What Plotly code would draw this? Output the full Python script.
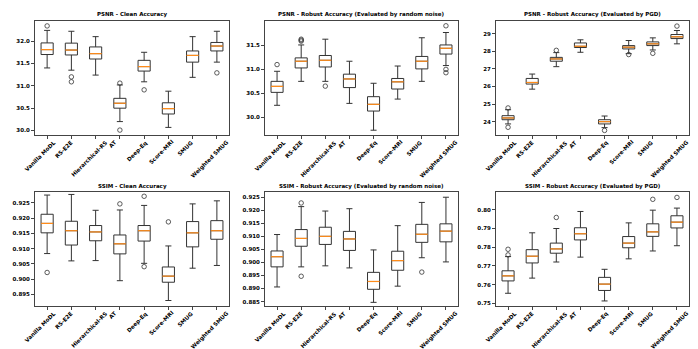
import plotly.graph_objects as go

methods = ["Vanilla MoDL", "RS-E2E", "Hierarchical-RS", "AT", "Deep-Eq",
           "Score-MRI", "SMUG", "Weighted SMUG"]

# PSNR - clean
psnr_clean_lo = [31.40, 31.35, 31.24, 30.20, 31.09, 30.07, 31.19, 31.53]
psnr_clean_q1 = [31.70, 31.69, 31.60, 30.50, 31.33, 30.37, 31.53, 31.78]
psnr_clean_med = [31.81, 31.80, 31.72, 30.61, 31.43, 30.49, 31.68, 31.89]
psnr_clean_q3 = [31.96, 31.955, 31.87, 30.72, 31.57, 30.62, 31.78, 31.97]
psnr_clean_hi = [32.24, 32.22, 32.10, 31.02, 31.75, 30.88, 32.10, 32.22]
psnr_clean_out = [[32.34], [31.20, 31.09], [], [31.06, 30.01], [30.91], [], [], [31.29]]

# PSNR - random noise
psnr_noise_lo = [30.25, 30.75, 30.75, 30.29, 29.73, 30.38, 30.75, 31.08]
psnr_noise_q1 = [30.52, 31.03, 31.05, 30.62, 30.13, 30.59, 31.01, 31.32]
psnr_noise_med = [30.645, 31.17, 31.19, 30.80, 30.27, 30.74, 31.17, 31.44]
psnr_noise_q3 = [30.75, 31.24, 31.29, 30.90, 30.43, 30.81, 31.27, 31.51]
psnr_noise_hi = [30.96, 31.51, 31.63, 31.17, 30.71, 31.07, 31.66, 31.77]
psnr_noise_out = [[31.10], [31.63, 31.61, 31.59], [30.65], [], [], [], [], [31.91, 31.00, 30.93]]

# PSNR - PGD
psnr_pgd_lo = [23.87, 25.85, 27.13, 27.95, 23.66, 27.87, 28.08, 28.43]
psnr_pgd_q1 = [24.11, 26.14, 27.44, 28.22, 23.87, 28.14, 28.33, 28.73]
psnr_pgd_med = [24.21, 26.23, 27.57, 28.29, 24.00, 28.24, 28.43, 28.83]
psnr_pgd_q3 = [24.34, 26.46, 27.66, 28.48, 24.11, 28.33, 28.54, 28.96]
psnr_pgd_hi = [24.68, 26.71, 27.93, 28.66, 24.32, 28.62, 28.77, 29.19]
psnr_pgd_out = [[24.78, 23.68], [], [28.06], [], [23.50], [27.82], [27.89], [29.44]]

# SSIM - clean
ssim_clean_lo = [0.9084, 0.9060, 0.9061, 0.8995, 0.9052, 0.8930, 0.9036, 0.9045]
ssim_clean_q1 = [0.9152, 0.9112, 0.9126, 0.9083, 0.9125, 0.8990, 0.9106, 0.9131]
ssim_clean_med = [0.9183, 0.9159, 0.9155, 0.9116, 0.9159, 0.9010, 0.9152, 0.9159]
ssim_clean_q3 = [0.9213, 0.9190, 0.9176, 0.9145, 0.9176, 0.9040, 0.9189, 0.9192]
ssim_clean_hi = [0.9276, 0.9278, 0.9226, 0.9227, 0.9242, 0.9109, 0.9247, 0.9257]
ssim_clean_out = [[0.9022], [], [], [0.9247], [0.9272, 0.9041], [0.9188], [], []]

# SSIM - random noise
ssim_noise_lo = [0.8906, 0.8983, 0.8987, 0.8979, 0.8847, 0.8909, 0.9018, 0.9002]
ssim_noise_q1 = [0.8983, 0.9062, 0.9069, 0.9046, 0.8897, 0.8970, 0.9077, 0.9079]
ssim_noise_med = [0.9022, 0.9092, 0.9100, 0.9090, 0.8927, 0.9007, 0.9108, 0.9120]
ssim_noise_q3 = [0.9044, 0.9126, 0.9135, 0.9119, 0.8962, 0.9043, 0.9146, 0.9148]
ssim_noise_hi = [0.9107, 0.9214, 0.9197, 0.9206, 0.9048, 0.9141, 0.9230, 0.9250]
ssim_noise_out = [[], [0.9228, 0.8947], [], [], [], [], [0.8963], []]

# SSIM - PGD
ssim_pgd_lo = [0.7554, 0.7635, 0.7721, 0.7747, 0.7513, 0.7738, 0.7780, 0.7808]
ssim_pgd_q1 = [0.7620, 0.7716, 0.7768, 0.7839, 0.7569, 0.7797, 0.7858, 0.7903]
ssim_pgd_med = [0.7647, 0.7752, 0.7791, 0.7872, 0.7603, 0.7822, 0.7882, 0.7934]
ssim_pgd_q3 = [0.7674, 0.7787, 0.7822, 0.7904, 0.7639, 0.7857, 0.7925, 0.7968]
ssim_pgd_hi = [0.7750, 0.7877, 0.7900, 0.7991, 0.7682, 0.7930, 0.7998, 0.8009]
ssim_pgd_out = [[0.7789, 0.7759], [], [0.7959], [], [], [], [0.8056], [0.8066]]

panels = [
    ("PSNR - Clean Accuracy", psnr_clean_lo, psnr_clean_q1, psnr_clean_med, psnr_clean_q3, psnr_clean_hi, psnr_clean_out,
     [29.9, 32.45], [30.0, 30.5, 31.0, 31.5, 32.0], ".1f"),
    ("PSNR - Robust Accuracy (Evaluated by random noise)", psnr_noise_lo, psnr_noise_q1, psnr_noise_med, psnr_noise_q3, psnr_noise_hi, psnr_noise_out,
     [29.63, 32.01], [30.0, 30.5, 31.0, 31.5], ".1f"),
    ("PSNR - Robust Accuracy (Evaluated by PGD)", psnr_pgd_lo, psnr_pgd_q1, psnr_pgd_med, psnr_pgd_q3, psnr_pgd_hi, psnr_pgd_out,
     [23.24, 29.73], [24, 25, 26, 27, 28, 29], "d"),
    ("SSIM - Clean Accuracy", ssim_clean_lo, ssim_clean_q1, ssim_clean_med, ssim_clean_q3, ssim_clean_hi, ssim_clean_out,
     [0.8912, 0.9286], [0.895, 0.900, 0.905, 0.910, 0.915, 0.920, 0.925], ".3f"),
    ("SSIM - Robust Accuracy (Evaluated by random noise)", ssim_noise_lo, ssim_noise_q1, ssim_noise_med, ssim_noise_q3, ssim_noise_hi, ssim_noise_out,
     [0.8833, 0.9270], [0.885, 0.890, 0.895, 0.900, 0.905, 0.910, 0.915, 0.920, 0.925], ".3f"),
    ("SSIM - Robust Accuracy (Evaluated by PGD)", ssim_pgd_lo, ssim_pgd_q1, ssim_pgd_med, ssim_pgd_q3, ssim_pgd_hi, ssim_pgd_out,
     [0.7486, 0.8095], [0.75, 0.76, 0.77, 0.78, 0.79, 0.80], ".2f"),
]

W, H = 698, 349
col_px = [(27, 221), (257, 450), (488, 681)]
row_px = [(13, 127), (184, 298)]

fig = go.Figure()
pos = list(range(1, len(methods) + 1))
font = dict(family="DejaVu Sans", size=5.5, color="black")

for k, (title, lo, q1, med, q3, hi, outs, yr, tv, fmt) in enumerate(panels):
    r, c = divmod(k, 3)
    n = k + 1
    xa = "x" if n == 1 else "x%d" % n
    ya = "y" if n == 1 else "y%d" % n
    x0, x1 = col_px[c]
    y0, y1 = row_px[r]

    fig.add_trace(go.Box(
        x=pos, q1=q1, median=med, q3=q3, lowerfence=lo, upperfence=hi,
        width=0.5, whiskerwidth=0.5, boxpoints=False,
        fillcolor="white", line=dict(color="#333333", width=1),
        xaxis=xa, yaxis=ya, showlegend=False, hoverinfo="skip"))

    # orange median lines
    mx, my = [], []
    for p, m in zip(pos, med):
        mx += [p - 0.25, p + 0.25, None]
        my += [m, m, None]
    fig.add_trace(go.Scatter(x=mx, y=my, mode="lines", line=dict(color="#ff8c1a", width=1.2),
                             xaxis=xa, yaxis=ya, showlegend=False, hoverinfo="skip"))

    # outliers
    ox, oy = [], []
    for p, vals in zip(pos, outs):
        for v in vals:
            ox.append(p)
            oy.append(v)
    fig.add_trace(go.Scatter(x=ox, y=oy, mode="markers",
                             marker=dict(symbol="circle-open", size=4.5, color="#333333", line=dict(width=0.8)),
                             xaxis=xa, yaxis=ya, showlegend=False, hoverinfo="skip"))

    ticktext = [("%d" % v) if fmt == "d" else format(v, fmt) for v in tv]
    fig.layout[("xaxis" if n == 1 else "xaxis%d" % n)] = dict(
        domain=[x0 / W, x1 / W], anchor=ya, range=[0.5, 8.5], automargin=False,
        tickvals=pos, showticklabels=False,
        showline=True, mirror=True, linecolor="#444444", linewidth=1,
        ticks="outside", ticklen=3, tickcolor="#444444", showgrid=False, zeroline=False)
    fig.layout[("yaxis" if n == 1 else "yaxis%d" % n)] = dict(
        domain=[1 - y1 / H, 1 - y0 / H], anchor=xa, range=yr, automargin=False,
        tickvals=tv, ticktext=["<b>%s</b>" % t for t in ticktext],
        showline=True, mirror=True, linecolor="#444444", linewidth=1,
        ticks="outside", ticklen=3, tickcolor="#444444", showgrid=False, zeroline=False,
        tickfont=font)

    # rotated category labels, centred under each tick (matplotlib style)
    for p, m in zip(pos, methods):
        fig.add_annotation(text="<b>%s</b>" % m, x=p, xref=xa,
                           y=1 - (y1 + 5) / H, yref="paper", textangle=-45,
                           xanchor="center", yanchor="top", showarrow=False,
                           xshift=-7, yshift=2, borderpad=0, font=font)

    fig.add_annotation(text="<b>%s</b>" % title, x=(x0 + x1) / 2 / W, y=1 - (y0 - 6) / H,
                       xref="paper", yref="paper", showarrow=False,
                       xanchor="center", yanchor="middle", font=font)

fig.update_layout(width=W, height=H, margin=dict(l=0, r=0, t=0, b=0),
                  plot_bgcolor="white", paper_bgcolor="white")

fig.write_html("out.html")
